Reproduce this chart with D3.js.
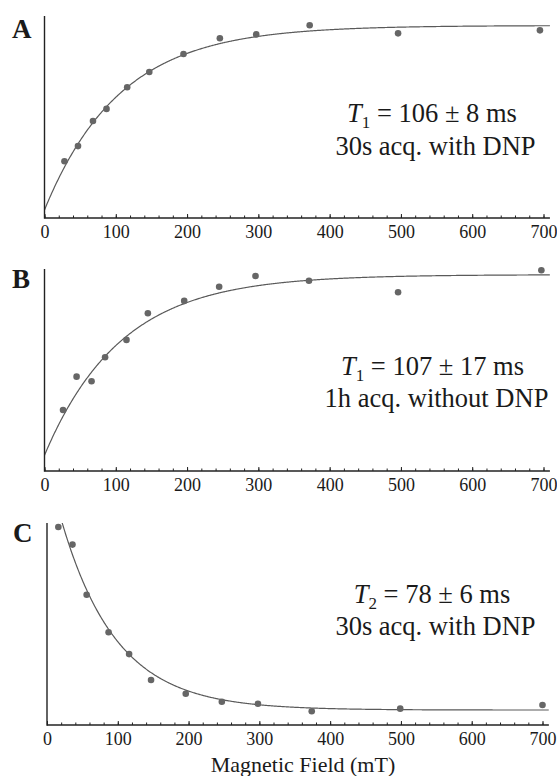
<!DOCTYPE html>
<html>
<head>
<meta charset="utf-8">
<script src="https://cdn.jsdelivr.net/npm/d3@7/dist/d3.min.js"></script>
<style>
  html, body { margin: 0; padding: 0; background: #fff; }
  svg { display: block; }
  text { font-family: "Liberation Serif", "Times New Roman", Times, serif; fill: #1a1a1a; }
</style>
</head>
<body>
<svg id="chart" width="557" height="776"></svg>
<script>
// ---------------- data ----------------
const panelLabels = ["A", "B", "C"];
const xTickValues = [0, 100, 200, 300, 400, 500, 600, 700];
const xMinorTickValues = d3.range(0, 701, 20);
const xAxisTitle = "Magnetic Field (mT)";

// Panel A : T1 with DNP
const fieldA  = [28, 47, 68, 87, 116, 147, 195, 246, 297, 372, 496, 695];
const signalA = [28.1, 35.6, 48.0, 54.0, 64.7, 72.3, 81.2, 89.0, 90.9, 95.4, 91.4, 92.9];
const fitA = [4.0, 91.3, 106];       // offset, amplitude, tau (recovery)
const noteA = ["1", " = 106 ± 8 ms", "30s acq. with DNP"];

// Panel B : T1 without DNP
const fieldB  = [26, 45, 66, 85, 115, 145, 196, 245, 296, 371, 496, 697];
const signalB = [30.2, 46.7, 44.4, 56.3, 64.9, 78.1, 84.2, 91.2, 96.5, 94.2, 88.5, 99.4];
const fitB = [7.8, 89.4, 107];
const noteB = ["1", " = 107 ± 17 ms", "1h acq. without DNP"];

// Panel C : T2 with DNP
const fieldC  = [16, 36, 56, 87, 116, 147, 196, 247, 298, 374, 499, 700];
const signalC = [98.0, 89.3, 64.5, 45.9, 35.1, 22.3, 15.5, 11.5, 10.5, 6.8, 8.1, 9.9];
const fitC = [7.4, 122, 78];         // offset, amplitude, tau (decay)
const noteC = ["2", " = 78 ± 6 ms", "30s acq. with DNP"];

// ---------------- layout ----------------
const svg = d3.select("#chart");
const serif = '"Liberation Serif", "Times New Roman", Times, serif';

const panels = [
  { label: panelLabels[0], xs: fieldA, ys: signalA, fit: fitA, kind: "rise",  note: noteA,
    x0: 44.5, x1: 543.5, top: 16, bottom: 218, labelY: 38, labelX: 12,
    n1: [432, 122], n2: [435.5, 155] },
  { label: panelLabels[1], xs: fieldB, ys: signalB, fit: fitB, kind: "rise",  note: noteB,
    x0: 44.5, x1: 543.5, top: 269, bottom: 471, labelY: 288, labelX: 12,
    n1: [432.5, 375], n2: [436.5, 407] },
  { label: panelLabels[2], xs: fieldC, ys: signalC, fit: fitC, kind: "decay", note: noteC,
    x0: 47, x1: 542.5, top: 523, bottom: 725, labelY: 541.5, labelX: 13,
    n1: [432, 603], n2: [435.5, 635] }
];

const xMax = 709;

panels.forEach((p, i) => {
  const x = d3.scaleLinear().domain([0, 700]).range([p.x0, p.x1]);
  const y = d3.scaleLinear().domain([0, 100]).range([p.bottom, p.top]);
  const g = svg.append("g");

  const clipId = "clip" + i;
  svg.append("clipPath").attr("id", clipId)
    .append("rect")
    .attr("x", x(0)).attr("y", y(100))
    .attr("width", x(xMax) - x(0)).attr("height", y(0) - y(100));

  // fitted curve
  const [off, amp, tau] = p.fit;
  const model = p.kind === "rise"
    ? v => off + amp * (1 - Math.exp(-v / tau))
    : v => off + amp * Math.exp(-v / tau);
  const curveX = d3.range(0, xMax + 0.5, 1);
  const line = d3.line().x(d => x(d)).y(d => y(model(d)));
  g.append("path")
    .datum(curveX)
    .attr("clip-path", `url(#${clipId})`)
    .attr("d", line)
    .attr("fill", "none")
    .attr("stroke", "#5a5a5a")
    .attr("stroke-width", 1.2);

  // data points
  g.selectAll("circle.pt")
    .data(p.xs.map((v, k) => [v, p.ys[k]]))
    .join("circle")
    .attr("class", "pt")
    .attr("cx", d => x(d[0]))
    .attr("cy", d => y(d[1]))
    .attr("r", 3.3)
    .attr("fill", "#666");

  // minor ticks
  const minorAxis = d3.axisBottom(x)
    .tickValues(xMinorTickValues)
    .tickSizeInner(-2.5).tickSizeOuter(0)
    .tickFormat("");
  const gMinor = g.append("g").attr("transform", `translate(0,${p.bottom})`).call(minorAxis);
  gMinor.select(".domain").remove();
  gMinor.selectAll("line").attr("stroke", "#222").attr("stroke-width", 1);

  // major axis
  const majorAxis = d3.axisBottom(x)
    .tickValues(xTickValues)
    .tickSizeInner(-4).tickSizeOuter(0)
    .tickPadding(7)
    .tickFormat(d3.format("d"));
  const gx = g.append("g").attr("transform", `translate(0,${p.bottom})`).call(majorAxis);
  gx.attr("font-family", serif);
  gx.select(".domain")
    .attr("d", `M${x(0)},0H${x(xMax)}`)
    .attr("stroke", "#222").attr("stroke-width", 1.4);
  gx.selectAll("line").attr("stroke", "#222").attr("stroke-width", 1);
  gx.selectAll("text")
    .style("font-family", serif)
    .style("font-size", "18px")
    .attr("fill", "#1a1a1a");

  // y axis line (no ticks)
  g.append("line")
    .attr("x1", x(0)).attr("x2", x(0))
    .attr("y1", y(0) + 0.7).attr("y2", y(100))
    .attr("stroke", "#222").attr("stroke-width", 1.4);

  // panel letter
  g.append("text")
    .attr("x", p.labelX).attr("y", p.labelY)
    .style("font-family", serif)
    .style("font-size", "27px").style("font-weight", "bold")
    .text(p.label);

  // annotation line 1
  const t1 = g.append("text")
    .attr("x", p.n1[0]).attr("y", p.n1[1])
    .attr("text-anchor", "middle")
    .style("font-family", serif)
    .style("font-size", "26.5px");
  t1.append("tspan").style("font-style", "italic").text("T");
  t1.append("tspan").attr("dy", 6).style("font-size", "17px").text(p.note[0]);
  t1.append("tspan").attr("dy", -6).text(p.note[1]);

  // annotation line 2
  g.append("text")
    .attr("x", p.n2[0]).attr("y", p.n2[1])
    .attr("text-anchor", "middle")
    .style("font-family", serif)
    .style("font-size", "26.5px")
    .text(p.note[2]);
});

// x axis title
svg.append("text")
  .attr("x", 303).attr("y", 771.5)
  .attr("text-anchor", "middle")
  .style("font-family", serif)
  .style("font-size", "22px")
  .text(xAxisTitle);
</script>
</body>
</html>
